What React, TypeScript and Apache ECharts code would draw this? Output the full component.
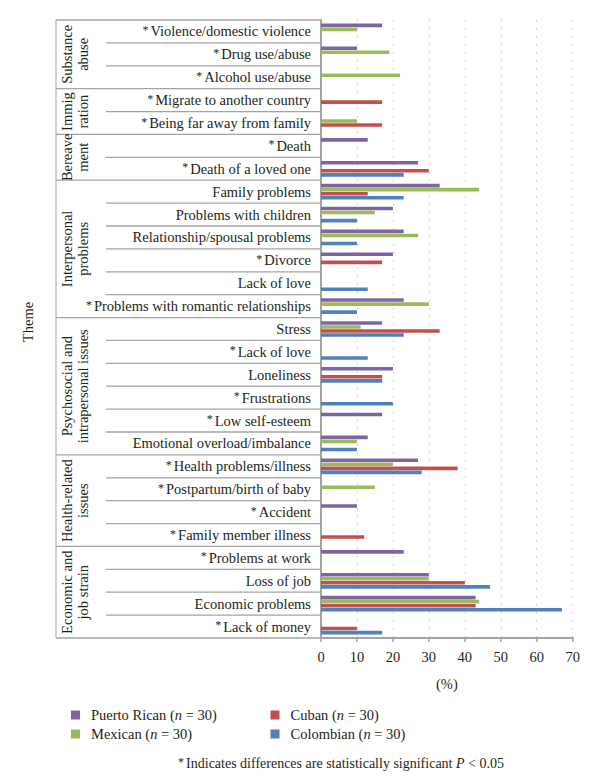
import React, { useEffect, useRef } from "react";
import * as echarts from "echarts";

const categories = [
  "*Violence/domestic violence",
  "*Drug use/abuse",
  "*Alcohol use/abuse",
  "*Migrate to another country",
  "*Being far away from family",
  "*Death",
  "*Death of a loved one",
  "Family problems",
  "Problems with children",
  "Relationship/spousal problems",
  "*Divorce",
  "Lack of love",
  "*Problems with romantic relationships",
  "Stress",
  "*Lack of love",
  "Loneliness",
  "*Frustrations",
  "*Low self-esteem",
  "Emotional overload/imbalance",
  "*Health problems/illness",
  "*Postpartum/birth of baby",
  "*Accident",
  "*Family member illness",
  "*Problems at work",
  "Loss of job",
  "Economic problems",
  "*Lack of money",
];

const seriesNames = ["Puerto Rican", "Mexican", "Cuban", "Colombian"];
const puertoRican = [17, 10, null, null, null, 13, 27, 33, 20, 23, 20, null, 23, 17, null, 20, null, 17, 13, 27, null, 10, null, 23, 30, 43, null];
const mexican = [10, 19, 22, null, 10, null, null, 44, 15, 27, null, null, 30, 11, null, null, null, null, 10, 20, 15, null, null, null, 30, 44, null];
const cuban = [null, null, null, 17, 17, null, 30, 13, null, null, 17, null, null, 33, null, 17, null, null, null, 38, null, null, 12, null, 40, 43, 10];
const colombian = [null, null, null, null, null, null, 23, 23, 10, 10, null, 13, 10, 23, 13, 17, 20, null, 10, 28, null, null, null, null, 47, 67, 17];
const seriesColors = ["#8064A2", "#9BBB59", "#C0504D", "#4F81BD"];

const groupLabels = [
  "Substance\nabuse",
  "Immig\nration",
  "Bereave\nment",
  "Interpersonal\nproblems",
  "Psychosocial and\nintrapersonal issues",
  "Health-related\nissues",
  "Economic and\njob strain",
];
const groupSizes = [3, 2, 2, 6, 6, 4, 4];

const xTicks = [0, 10, 20, 30, 40, 50, 60, 70];

const FONT = '"Liberation Serif", "DejaVu Serif", serif';
const TEXT = "#231f20";
const LINE = "#a3a3a3";
const FS = 14.5;

export default function App() {
  const ref = useRef<HTMLDivElement>(null);
  useEffect(() => {
    if (!ref.current) return;
    const chart = echarts.init(ref.current, undefined, { renderer: "svg" });
    const data = [puertoRican, mexican, cuban, colombian];
    const legendText = {
      fontFamily: FONT,
      fontSize: FS,
      color: TEXT,
      lineHeight: 16,
      padding: [0, 0, 0, 6],
      rich: { i: { fontStyle: "italic", fontFamily: FONT, fontSize: FS, color: TEXT } },
    };
    const legendFormatter = (name: string) => `${name} ({i|n} = 30)`;
    chart.setOption({
      animation: false,
      grid: { left: 321, right: 27.3, top: 20, bottom: 138, containLabel: false },
      legend: [
        {
          data: [seriesNames[0], seriesNames[1]],
          orient: "vertical",
          left: 66,
          top: 702,
          itemWidth: 9,
          itemHeight: 9,
          itemGap: 3,
          icon: "rect",
          formatter: legendFormatter,
          textStyle: legendText,
          selectedMode: false,
        },
        {
          data: [seriesNames[2], seriesNames[3]],
          orient: "vertical",
          left: 265.5,
          top: 702,
          itemWidth: 9,
          itemHeight: 9,
          itemGap: 3,
          icon: "rect",
          formatter: legendFormatter,
          textStyle: legendText,
          selectedMode: false,
        },
      ],
      xAxis: {
        type: "value",
        min: 0,
        max: 70,
        interval: 10,
        name: "(%)",
        nameLocation: "middle",
        nameGap: 38,
        nameTextStyle: { fontFamily: FONT, fontSize: FS, color: TEXT },
        axisLine: { show: true, lineStyle: { color: LINE, width: 2 } },
        axisTick: { show: true, length: 4, lineStyle: { color: LINE, width: 1.5 } },
        axisLabel: {
          fontFamily: FONT,
          fontSize: FS,
          color: TEXT,
          margin: 11,
          formatter: (v: number) => (xTicks.includes(v) ? String(v) : ""),
        },
        splitLine: { show: true, lineStyle: { color: "#c4c4c4", width: 1, type: [1.5, 6.5] } },
      },
      yAxis: {
        type: "category",
        data: categories,
        inverse: true,
        axisLine: { show: true, lineStyle: { color: LINE, width: 2 } },
        axisTick: { show: false },
        splitLine: { show: false },
        axisLabel: {
          fontFamily: FONT,
          fontSize: FS,
          color: TEXT,
          margin: 10,
          interval: 0,
          formatter: (v: string) => (v.startsWith("*") ? "{s|*}" + v.slice(1) : v),
          rich: { s: { fontFamily: FONT, fontSize: 12, color: TEXT, padding: [0, 2, 3, 0] } },
        },
      },
      series: seriesNames.map((name, i) => ({
        name,
        type: "bar",
        data: data[i],
        barWidth: 3.6,
        barGap: "12%",
        barCategoryGap: "30%",
        itemStyle: { color: seriesColors[i] },
      })),
    });

    const yc0 = chart.convertToPixel({ yAxisIndex: 0 }, categories[0]) as number;
    const yc1 = chart.convertToPixel({ yAxisIndex: 0 }, categories[1]) as number;
    const band = yc1 - yc0;
    const xAxis0 = chart.convertToPixel({ xAxisIndex: 0 }, 0) as number;
    const boundary = (k: number) => yc0 + (k - 0.5) * band;
    const groupStarts: number[] = [];
    let acc = 0;
    groupSizes.forEach((s) => {
      groupStarts.push(acc);
      acc += s;
    });
    const graphics: any[] = [];
    for (let k = 0; k <= categories.length; k++) {
      const isGroup = groupStarts.includes(k) || k === categories.length;
      const y = boundary(k);
      graphics.push({
        type: "line",
        shape: { x1: isGroup ? 56 : 106, y1: y, x2: xAxis0, y2: y },
        style: { stroke: LINE, lineWidth: 1.3 },
        silent: true,
      });
    }
    graphics.push({
      type: "line",
      shape: { x1: 56, y1: boundary(0), x2: 56, y2: boundary(categories.length) },
      style: { stroke: LINE, lineWidth: 1 },
      silent: true,
    });
    groupLabels.forEach((lab, gi) => {
      const start = groupStarts[gi];
      const yMid = (boundary(start) + boundary(start + groupSizes[gi])) / 2;
      graphics.push({
        type: "text",
        x: 75,
        y: yMid,
        rotation: Math.PI / 2,
        style: {
          text: lab,
          font: `${FS}px ${FONT}`,
          fill: TEXT,
          align: "center",
          verticalAlign: "middle",
          textAlign: "center",
          textVerticalAlign: "middle",
          lineHeight: 16.5,
        },
        silent: true,
      });
    });
    graphics.push({
      type: "text",
      x: 28,
      y: 322,
      rotation: Math.PI / 2,
      style: {
        text: "Theme",
        font: `${FS}px ${FONT}`,
        fill: TEXT,
        align: "center",
        verticalAlign: "middle",
        textAlign: "center",
        textVerticalAlign: "middle",
      },
      silent: true,
    });
    graphics.push({
      type: "text",
      x: 341,
      y: 763,
      style: {
        text: "{s|*}Indicates differences are statistically significant {i|P} < 0.05",
        font: `14px ${FONT}`,
        fill: TEXT,
        align: "center",
        verticalAlign: "middle",
        textAlign: "center",
        textVerticalAlign: "middle",
        rich: {
          s: { fontFamily: FONT, fontSize: 12, fill: TEXT, padding: [0, 2, 3, 0] },
          i: { fontFamily: FONT, fontSize: 14, fontStyle: "italic", fill: TEXT },
        },
      },
      silent: true,
    });
    chart.setOption({ graphic: graphics });

    return () => chart.dispose();
  }, []);
  return (
    <div
      ref={ref}
      style={{ position: "absolute", left: 0, top: 0, width: 600, height: 776, background: "#fff" }}
    />
  );
}
